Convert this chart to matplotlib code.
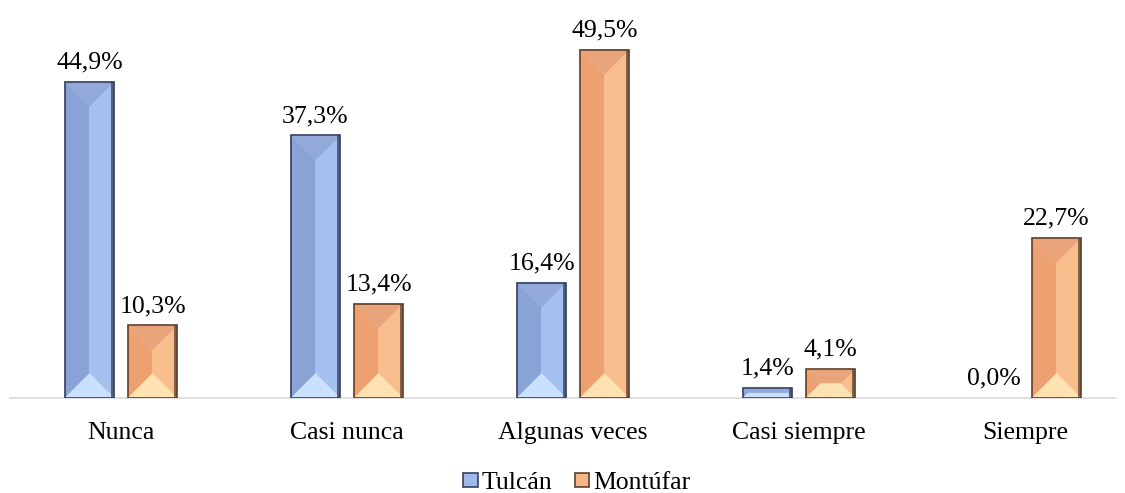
import matplotlib
matplotlib.use("Agg")
import matplotlib.pyplot as plt
from matplotlib.patches import Polygon, Rectangle

categories = ["Nunca", "Casi nunca", "Algunas veces", "Casi siempre", "Siempre"]
series_names = ["Tulcán", "Montúfar"]
tulcan = [44.9, 37.3, 16.4, 1.4, 0.0]
montufar = [10.3, 13.4, 49.5, 4.1, 22.7]
value_labels_tulcan = ["44,9%", "37,3%", "16,4%", "1,4%", "0,0%"]
value_labels_montufar = ["10,3%", "13,4%", "49,5%", "4,1%", "22,7%"]

plt.rcParams['font.family'] = ['Liberation Serif', 'DejaVu Serif']
FS = 18.5

W_PX, H_PX = 1125, 493
fig = plt.figure(figsize=(W_PX / 100, H_PX / 100), dpi=100)
ax_l, ax_r = 10, 1115
ax_b = 95
ax_h = 352
ax = fig.add_axes([ax_l / W_PX, ax_b / H_PX, (ax_r - ax_l) / W_PX, ax_h / H_PX])

x0_px, step_px = 121, 226
xmin = -(x0_px - ax_l) / step_px
xmax = 4 + (ax_r - (x0_px + 4 * step_px)) / step_px
ax.set_xlim(xmin, xmax)
ax.set_ylim(0, 50)

bar_w = 49 / step_px
off = 31.5 / step_px
xs = list(range(len(categories)))

palettes = {
    "Tulcán": dict(left="#8AA3D6", right="#A5BFEE", top="#92A9DA", bottom="#C9E1FF",
                   face="#A0B9E8", edge="#34415E"),
    "Montúfar": dict(left="#EDA170", right="#F9BE8E", top="#E9A47B", bottom="#FFE2B2",
                     face="#F6B585", edge="#5E402C"),
}

bars_t = ax.bar([x - off for x in xs], tulcan, width=bar_w, color="none", linewidth=0)
bars_m = ax.bar([x + off for x in xs], montufar, width=bar_w, color="none", linewidth=0)

# pixel -> data conversions
dx = (xmax - xmin) / (ax_r - ax_l)
dy = 50 / ax_h


def bevel(patch, pal):
    x0 = patch.get_x()
    w = patch.get_width()
    h = patch.get_height()
    if h <= 0:
        return
    x1 = x0 + w
    y0, y1 = 0, h
    w_px = w / dx
    h_px = h / dy
    d_px = min(w_px / 2, h_px / 2)
    ddx, ddy = d_px * dx, d_px * dy
    polys = [
        ([(x0, y0), (x0, y1), (x0 + ddx, y1 - ddy), (x0 + ddx, y0 + ddy)], pal["left"]),
        ([(x1, y0), (x1, y1), (x1 - ddx, y1 - ddy), (x1 - ddx, y0 + ddy)], pal["right"]),
        ([(x0, y1), (x1, y1), (x1 - ddx, y1 - ddy), (x0 + ddx, y1 - ddy)], pal["top"]),
        ([(x0, y0), (x1, y0), (x1 - ddx, y0 + ddy), (x0 + ddx, y0 + ddy)], pal["bottom"]),
    ]
    for pts, c in polys:
        ax.add_patch(Polygon(pts, closed=True, facecolor=c, edgecolor=c, linewidth=0.3, zorder=2))
    if (x1 - ddx) > (x0 + ddx) and (y1 - ddy) > (y0 + ddy):
        ax.add_patch(Rectangle((x0 + ddx, y0 + ddy), (x1 - ddx) - (x0 + ddx), (y1 - ddy) - (y0 + ddy),
                               facecolor=pal["face"], edgecolor="none", zorder=2))
    ax.add_patch(Rectangle((x1 - 3 * dx, y0), 3 * dx, h, facecolor=pal["edge"], edgecolor="none",
                           alpha=0.75, zorder=3))
    ax.add_patch(Rectangle((x0, y0), w, h, facecolor="none", edgecolor=pal["edge"], linewidth=1.2, zorder=4))


for p in bars_t:
    bevel(p, palettes["Tulcán"])
for p in bars_m:
    bevel(p, palettes["Montúfar"])

for bars, labels in ((bars_t, value_labels_tulcan), (bars_m, value_labels_montufar)):
    for p, lab in zip(bars, labels):
        ax.annotate(lab, (p.get_x() + p.get_width() / 2, p.get_height()),
                    xytext=(0, 14.0), textcoords="offset points",
                    ha="center", va="center", fontsize=FS, color="#000000")

for x, c in zip(xs, categories):
    ax.annotate(c, (x, 0), xytext=(0, -25.5), textcoords="offset points",
                ha="center", va="center", fontsize=FS, color="#000000")

ax.set_xticks([])
ax.set_yticks([])
for s in ("top", "right", "left"):
    ax.spines[s].set_visible(False)
ax.spines["bottom"].set_color("#D9D9D9")
ax.spines["bottom"].set_linewidth(1.2)
ax.patch.set_visible(False)

handles = [Rectangle((0, 0), 1, 1, facecolor=palettes[n]["face"], edgecolor=palettes[n]["edge"], linewidth=1.2)
           for n in series_names]
fig.legend(handles, series_names, loc="center", bbox_to_anchor=(577 / W_PX, 10 / H_PX),
           ncol=2, frameon=False, fontsize=FS, handlelength=0.55, handleheight=0.5,
           handletextpad=0.15, columnspacing=0.9)

fig.savefig("out.png", dpi=100)
